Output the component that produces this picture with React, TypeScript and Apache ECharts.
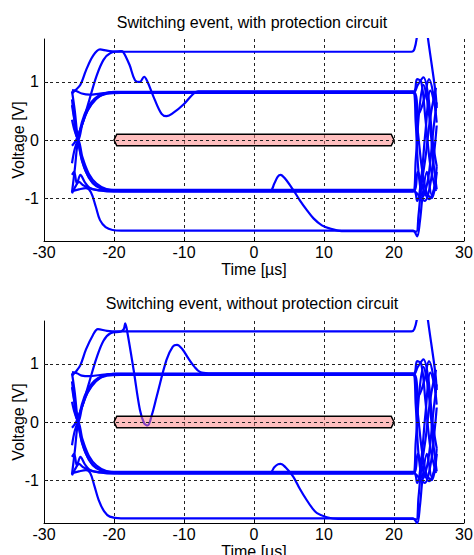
import React, { useEffect, useRef } from 'react';
import * as echarts from 'echarts';

// ---------- texts ----------
const topTitle = 'Switching event, with protection circuit';
const bottomTitle = 'Switching event, without protection circuit';
const xAxisName = 'Time [µs]';
const yAxisName = 'Voltage [V]';

// ---------- axes ----------
const xRange = [-30, 30];
const xStep = 10;
const yRange = [-1.74, 1.74];
const yTicks = [-1, 0, 1];

// ---------- eye mask ----------
const maskX = [-20, -19.6, 19.6, 20, 19.6, -19.6];
const maskY = [0, 0.1, 0.1, 0, -0.1, -0.1];

// ---------- right-hand tangle pieces ----------
const rA = [[22.7, 0.82], [23.3, 1.05], [23.9, 1.0], [24.5, 0.35], [25.2, -0.45], [26.0, -0.88]];
const rB = [[22.7, 0.83], [23.1, 0.3], [23.5, -0.55], [24.1, -0.98], [24.9, -0.65], [25.6, 0.15], [26.1, 0.65]];
const rC = [[22.7, 0.81], [23.4, 0.95], [24.2, 1.08], [24.9, 0.75], [25.5, 0.0], [26.1, -0.45]];
const rD = [[22.7, 0.84], [23.5, 0.45], [24.3, 0.7], [25.0, 1.05], [25.6, 0.8], [26.1, 0.3]];
const rE = [[22.7, -0.86], [23.3, -1.05], [23.9, -0.65], [24.5, 0.15], [25.2, 0.85], [26.0, 0.5]];
const rF = [[22.7, -0.88], [23.1, -0.35], [23.6, 0.5], [24.2, 0.95], [24.9, 0.55], [25.6, -0.35], [26.1, -0.85]];
const rG = [[22.7, -0.87], [23.5, -0.95], [24.4, -1.05], [25.2, -0.75], [25.8, -0.15], [26.1, 0.25]];
const rH = [[22.7, -0.89], [23.4, -0.55], [24.2, -0.85], [25.0, -1.02], [25.7, -0.85], [26.1, -0.45]];
const rI = [[22.7, 0.82], [23.4, 0.15], [24.0, -0.5], [24.7, -0.92], [25.4, -1.0], [26.1, -0.55]];

// ---------- top plot traces (with protection) ----------
const topT1 = [[-26, 0.86], [-25.3, 0.84], [-24.6, 0.8], [-23.5, 0.78], [-22, 0.8], [-20, 0.82], ...rA];
const topT2 = [[-26, 0.84], [-25.6, 0.5], [-25.2, 0.05], [-24.6, -0.35], [-23.8, -0.6], [-22.8, -0.76], [-21.5, -0.84], [-20, -0.86], ...rE];
const topT3 = [[-26, -0.9], [-25.6, -0.5], [-25.2, -0.05], [-24.6, 0.3], [-23.8, 0.55], [-22.8, 0.71], [-21.5, 0.8], [-20, 0.83], ...rB];
const topT4 = [[-26, -0.92], [-25.5, -0.8], [-25, -0.72], [-24.4, -0.78], [-23, -0.85], [-21, -0.87], ...rG];
const topT5 = [[-26, 0.35], [-25.6, 0.15], [-25.1, 0.0], [-24.5, 0.28], [-23.6, 0.55], [-22.5, 0.72], [-21, 0.8], [-19, 0.81], ...rC];
const topT6 = [[-26, -0.4], [-25.6, -0.15], [-25.1, 0.0], [-24.5, -0.3], [-23.6, -0.58], [-22.5, -0.75], [-21, -0.85], [-19, -0.88], ...rF];
const topT7 = [[-26, 0.8], [-25.5, 0.86], [-24.8, 0.95], [-24, 1.2], [-23, 1.45], [-22, 1.56], [-21, 1.54], [-19.5, 1.52], [22.5, 1.52], [22.9, 1.56], [23.3, 1.8], [24, 2.6], [24.8, 1.8], [25.9, 0.85], [26.1, 0.55]];
const topT8 = [[-26, -0.1], [-25.4, 0.0], [-24.6, 0.25], [-23.5, 0.7], [-22.5, 1.1], [-21.5, 1.38], [-20.5, 1.5], [-19, 1.53], [-18.7, 1.52], [-17.8, 1.3], [-17, 1.03], [-16.3, 1.0], [-15.7, 1.09], [-15.2, 1.0], [-14.2, 0.7], [-13.2, 0.45], [-12.5, 0.41], [-11.5, 0.47], [-10, 0.62], [-8.8, 0.78], [-8, 0.84], ...rD];
const topT9 = [[-26, -0.88], [-25, -0.85], [-24, -0.83], [-23.3, -0.9], [-22.6, -1.15], [-22, -1.38], [-21.2, -1.5], [-20.2, -1.55], [-19, -1.56], [22.7, -1.56], [23.3, -1.66], [23.7, -1.4], [24.1, -0.95], [24.7, -0.55], [25.4, -0.95], [26.0, -0.7]];
const topT10 = [[-26, 0.6], [-25.6, 0.3], [-25.1, -0.02], [-24.5, -0.38], [-23.6, -0.65], [-22.5, -0.8], [-21, -0.86], [-19, -0.87], [2.3, -0.87], [2.9, -0.75], [3.4, -0.63], [3.8, -0.6], [4.4, -0.66], [5.6, -0.86], [6.5, -1.03], [7.5, -1.2], [8.5, -1.35], [9.7, -1.47], [11, -1.53], [12.5, -1.57], [22.7, -1.57], [23.2, -1.58], [23.5, -1.3], [23.9, -0.8], [24.5, -0.3], [25.2, 0.4], [26.0, 0.9]];
const topT11 = [[-26, 0.7], [-25.7, 0.4], [-25.3, 0.05], [-24.7, 0.22], [-23.8, 0.5], [-22.6, 0.7], [-21.2, 0.8], [-19.5, 0.82], ...rI];
const topT12 = [[-26, -0.6], [-25.7, -0.55], [-25.3, -0.75], [-24.8, -0.6], [-24.2, -0.72], [-23.5, -0.82], [-22, -0.87], [-20, -0.89], ...rH];

// ---------- bottom plot traces (without protection) ----------
const botT1 = [[-26, 0.86], [-25.3, 0.84], [-24.6, 0.8], [-23.5, 0.79], [-22, 0.81], [-20, 0.83], ...rA];
const botT2 = [[-26, 0.84], [-25.6, 0.5], [-25.2, 0.05], [-24.6, -0.35], [-23.8, -0.6], [-22.8, -0.76], [-21.5, -0.84], [-20, -0.86], ...rE];
const botT3 = [[-26, -0.9], [-25.6, -0.5], [-25.2, -0.05], [-24.6, 0.3], [-23.8, 0.55], [-22.8, 0.71], [-21.5, 0.8], [-20, 0.83], ...rB];
const botT4 = [[-26, -0.92], [-25.5, -0.8], [-25, -0.72], [-24.4, -0.78], [-23, -0.85], [-21, -0.87], ...rG];
const botT5 = [[-26, 0.35], [-25.6, 0.15], [-25.1, 0.0], [-24.5, 0.28], [-23.6, 0.55], [-22.5, 0.72], [-21, 0.8], [-19, 0.81], ...rC];
const botT6 = [[-26, -0.4], [-25.6, -0.15], [-25.1, 0.0], [-24.5, -0.3], [-23.6, -0.58], [-22.5, -0.75], [-21, -0.85], [-19, -0.88], ...rF];
const botT7 = [[-26, 0.8], [-25.5, 0.86], [-24.8, 0.98], [-24, 1.25], [-23, 1.5], [-22.3, 1.6], [-21, 1.57], [-19.5, 1.56], [22.5, 1.56], [22.9, 1.6], [23.3, 1.8], [24, 2.6], [24.8, 1.8], [25.9, 0.85], [26.1, 0.55]];
const botT8 = [[-26, -0.1], [-25.4, 0.0], [-24.6, 0.25], [-23.5, 0.7], [-22.5, 1.1], [-21.5, 1.4], [-20.5, 1.53], [-19, 1.56], [-18.6, 1.6], [-18.4, 1.7], [-18.1, 1.55], [-17.2, 0.9], [-16.3, 0.21], [-15.7, -0.02], [-15.2, -0.06], [-14.6, 0.12], [-13.9, 0.44], [-12.5, 1.07], [-11.6, 1.3], [-11.0, 1.33], [-10.2, 1.25], [-9.4, 1.1], [-8.5, 0.95], [-7.7, 0.86], [-6.5, 0.84], ...rD];
const botT9 = [[-26, -0.88], [-25, -0.85], [-24, -0.83], [-23.4, -0.88], [-22.8, -1.1], [-22.2, -1.34], [-21.4, -1.54], [-20.6, -1.63], [-19, -1.66], [22.7, -1.66], [23.3, -1.74], [23.7, -1.45], [24.1, -0.95], [24.7, -0.55], [25.4, -0.95], [26.0, -0.7]];
const botT10 = [[-26, 0.6], [-25.6, 0.3], [-25.1, -0.02], [-24.5, -0.38], [-23.6, -0.65], [-22.5, -0.8], [-21, -0.86], [-19, -0.87], [2.3, -0.87], [2.9, -0.78], [3.4, -0.73], [3.8, -0.72], [4.5, -0.78], [5.6, -0.94], [6.5, -1.14], [7.5, -1.34], [8.3, -1.48], [9, -1.57], [10.4, -1.64], [12, -1.67], [22.7, -1.67], [23.2, -1.68], [23.5, -1.3], [23.9, -0.8], [24.5, -0.3], [25.2, 0.4], [26.0, 0.9]];
const botT11 = [[-26, 0.7], [-25.7, 0.4], [-25.3, 0.05], [-24.7, 0.22], [-23.8, 0.5], [-22.6, 0.7], [-21.2, 0.81], [-19.5, 0.83], ...rI];
const botT12 = [[-26, -0.6], [-25.7, -0.55], [-25.3, -0.75], [-24.8, -0.6], [-24.2, -0.72], [-23.5, -0.82], [-22, -0.87], [-20, -0.89], ...rH];

const topTraces = [topT1, topT2, topT3, topT4, topT5, topT6, topT7, topT8, topT9, topT10, topT11, topT12];
const bottomTraces = [botT1, botT2, botT3, botT4, botT5, botT6, botT7, botT8, botT9, botT10, botT11, botT12];

const FONT = '"Liberation Sans", Arial, Helvetica, sans-serif';
const BLUE = '#0000ff';

function axesFor(gridIndex: number) {
  const xAxis = {
    type: 'value', gridIndex, min: xRange[0], max: xRange[1], interval: xStep,
    axisLine: { show: true, onZero: false, lineStyle: { color: '#000', width: 1 } },
    axisTick: { show: true, inside: true, length: 4, lineStyle: { color: '#000' } },
    axisLabel: { color: '#000', fontSize: 16, lineHeight: 16, fontFamily: FONT, margin: 3 },
    splitLine: { show: true, lineStyle: { type: [3, 3], color: '#222', width: 1 } },
    name: xAxisName, nameLocation: 'middle', nameGap: 20, nameMoveOverlap: false,
    nameTextStyle: { color: '#000', fontSize: 16, lineHeight: 16, fontFamily: FONT },
  };
  const yAxis = {
    type: 'value', gridIndex, min: yRange[0], max: yRange[1],
    axisLine: { show: true, onZero: false, lineStyle: { color: '#000', width: 1 } },
    axisTick: { show: true, inside: true, length: 4, customValues: yTicks, lineStyle: { color: '#000' } },
    axisLabel: { color: '#000', fontSize: 16, fontFamily: FONT, margin: 5, customValues: yTicks },
    splitLine: { show: false },
    name: yAxisName, nameLocation: 'middle', nameGap: 18, nameRotate: 90, nameMoveOverlap: false,
    nameTextStyle: { color: '#000', fontSize: 16, fontFamily: FONT },
  };
  return { xAxis, yAxis };
}

function seriesFor(gridIndex: number, traces: number[][][]) {
  const out: any[] = [];
  out.push({
    type: 'line', xAxisIndex: gridIndex, yAxisIndex: gridIndex, data: [], silent: true, z: 1,
    markLine: {
      silent: true, symbol: ['none', 'none'], label: { show: false },
      lineStyle: { type: [3, 3], color: '#222', width: 1 },
      data: yTicks.map((v) => ({ yAxis: v })),
    },
  });
  traces.forEach((tr) => {
    out.push({
      type: 'line', xAxisIndex: gridIndex, yAxisIndex: gridIndex, data: tr,
      showSymbol: false, symbol: 'none', smooth: 0.35, silent: true, z: 2,
      lineStyle: { color: BLUE, width: 2.2 },
    });
  });
  const maskData = maskX.map((x, i) => [x, maskY[i]]);
  out.push({
    type: 'custom', xAxisIndex: gridIndex, yAxisIndex: gridIndex, data: [maskData[0]], silent: true, z: 3,
    renderItem: (_params: any, api: any) => {
      const pts = maskData.map((p) => api.coord(p));
      return {
        type: 'polygon',
        shape: { points: pts },
        style: { fill: 'rgba(255,128,128,0.5)', stroke: '#000', lineWidth: 1.5 },
      };
    },
  });
  return out;
}

export default function App() {
  const ref = useRef<HTMLDivElement>(null);
  useEffect(() => {
    if (!ref.current) return;
    const chart = echarts.init(ref.current, null, { renderer: 'svg' });
    const a0 = axesFor(0);
    const a1 = axesFor(1);
    chart.setOption({
      animation: false,
      backgroundColor: '#fff',
      grid: [
        { left: 44, right: 10, top: 39, height: 202, containLabel: false, outerBoundsMode: 'none' },
        { left: 44, right: 10, top: 321, height: 202, containLabel: false, outerBoundsMode: 'none' },
      ],
      xAxis: [a0.xAxis, a1.xAxis],
      yAxis: [a0.yAxis, a1.yAxis],
      graphic: [
        { type: 'text', x: 252, y: 22, style: { text: topTitle, fill: '#000', font: `16px ${FONT}`, align: 'center', verticalAlign: 'middle' } },
        { type: 'text', x: 252, y: 303, style: { text: bottomTitle, fill: '#000', font: `16px ${FONT}`, align: 'center', verticalAlign: 'middle' } },
      ],
      series: [...seriesFor(0, topTraces), ...seriesFor(1, bottomTraces)],
    });
    return () => chart.dispose();
  }, []);
  return <div ref={ref} style={{ position: 'absolute', left: 0, top: 0, width: 474, height: 555 }} />;
}
